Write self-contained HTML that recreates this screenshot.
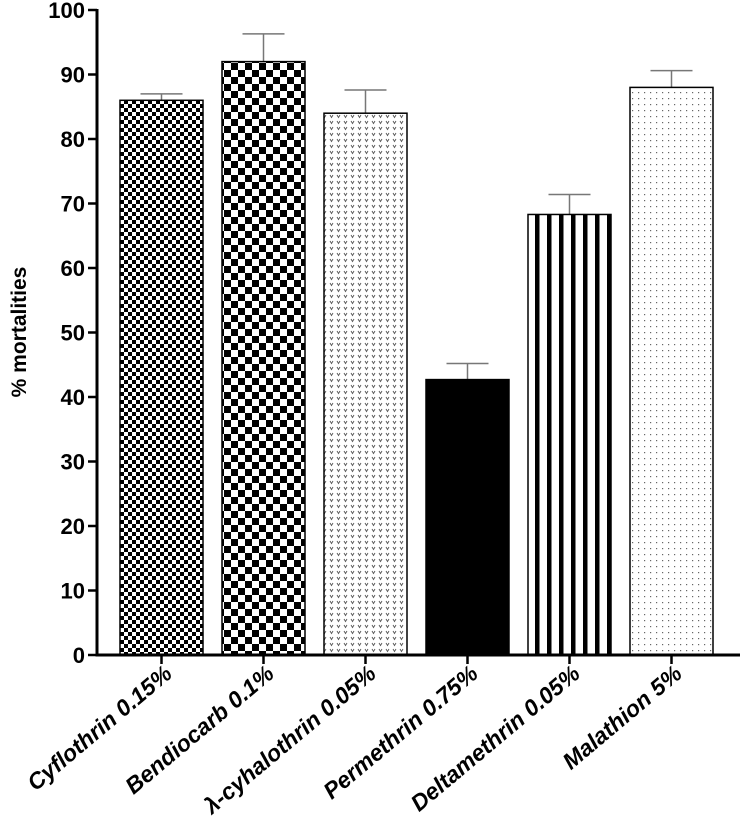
<!DOCTYPE html>
<html><head><meta charset="utf-8"><style>
body{margin:0;background:#fff}
svg{display:block}
text{font-family:"Liberation Sans",Arial,sans-serif;font-weight:bold;fill:#000}
</style></head><body>
<svg id="chart" width="742" height="822" viewBox="0 0 742 822">
<defs>
<pattern id="p0" width="8" height="8" patternUnits="userSpaceOnUse"><rect width="8" height="8" fill="#fff"/><rect width="4" height="4" fill="#000"/><rect x="4" y="4" width="4" height="4" fill="#000"/></pattern>
<pattern id="p1" width="14" height="14" patternUnits="userSpaceOnUse"><rect width="14" height="14" fill="#fff"/><rect width="7" height="7" fill="#000"/><rect x="7" y="7" width="7" height="7" fill="#000"/></pattern>
<pattern id="p2" width="7" height="6" patternUnits="userSpaceOnUse"><rect width="7" height="6" fill="#fff"/><path d="M1 1 L2.5 3.5 L4 1" stroke="#555" stroke-width="0.9" fill="none"/></pattern>
<pattern id="p3" width="10" height="10" patternUnits="userSpaceOnUse"><rect width="10" height="10" fill="#000"/></pattern>
<pattern id="p4" width="12" height="10" patternUnits="userSpaceOnUse" x="535"><rect width="12" height="10" fill="#fff"/><rect x="0" width="4.5" height="10" fill="#000"/></pattern>
<pattern id="p5" width="6" height="6" patternUnits="userSpaceOnUse"><rect width="6" height="6" fill="#fff"/><rect x="2" y="2" width="1.2" height="1.2" fill="#666"/></pattern>
</defs>
<g id="plot"></g>
</svg>
<script>
const categories=["Cyflothrin 0.15%","Bendiocarb 0.1%","λ-cyhalothrin 0.05%","Permethrin 0.75%","Deltamethrin 0.05%","Malathion 5%"];
const values=[86,92,84,42.7,68.3,88];
const errors=[1,4.3,3.6,2.5,3.1,2.6];
const yTicks=[0,10,20,30,40,50,60,70,80,90,100];
const ns="http://www.w3.org/2000/svg";
const g=document.getElementById('plot');
const y0=655,y100=10,axX=97;
function yS(v){return y0-(v/100)*(y0-y100);}
function xS(i){return 161.5+i*102;}
const bw=83;
function mk(t,a){const e=document.createElementNS(ns,t);for(const k in a)e.setAttribute(k,a[k]);g.appendChild(e);return e;}
categories.forEach((c,i)=>{
  const cx=xS(i),top=yS(values[i]),et=yS(values[i]+errors[i]);
  const eb=mk('line',{x1:cx,x2:cx,y1:top,y2:et,stroke:'#777','stroke-width':1.5});
  
  
  const ec=mk('line',{x1:cx-21,x2:cx+21,y1:et,y2:et,stroke:'#777','stroke-width':1.5});
  
  
  const r=mk('rect',{x:cx-bw/2,y:top,width:bw,height:y0-top,fill:'url(#p'+i+')',stroke:'#000','stroke-width':1.5});
  
  
  const tk=mk('line',{x1:cx,x2:cx,y1:y0,y2:y0+9,stroke:'#000','stroke-width':2.5});
  
  
  const ax=cx+12,ay=y0+21;
  const t=mk('text',{x:ax,y:ay,'font-size':23,'font-style':'italic','text-anchor':'end',transform:'rotate(-40 '+ax+' '+ay+')'});
  t.textContent=c;
  
  
});
yTicks.forEach(v=>{
  const y=yS(v);
  const l=mk('line',{x1:axX-9,x2:axX,y1:y,y2:y,stroke:'#000','stroke-width':2.5});
  
  
  const t=mk('text',{x:axX-12,y:y+8,'font-size':22,'text-anchor':'end'});
  t.textContent=v;
  
  
});
const ya=mk('line',{x1:axX,x2:axX,y1:y100-1,y2:y0+1.5,stroke:'#000','stroke-width':3});


const xa=mk('line',{x1:axX-1.5,x2:740,y1:y0,y2:y0,stroke:'#000','stroke-width':3});


const yt=mk('text',{x:26,y:332,'font-size':21,'text-anchor':'middle',transform:'rotate(-90 26 332)'});
yt.textContent='% mortalities';


</script>
</body></html>
